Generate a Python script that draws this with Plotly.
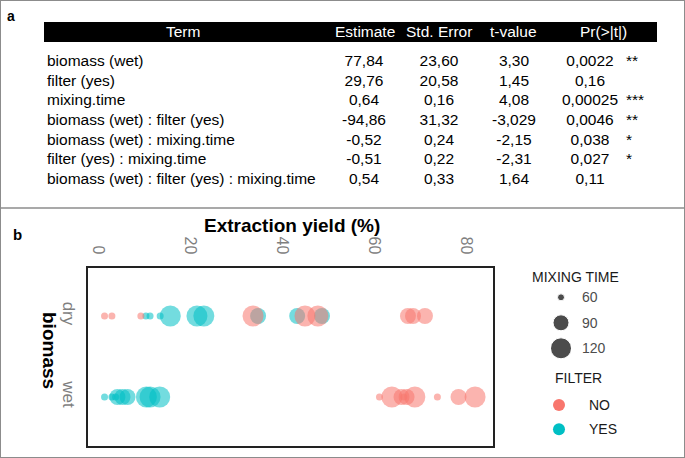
import plotly.graph_objects as go

W, H = 685, 458
FONT = "Liberation Sans, Arial, sans-serif"

# ---- panel a: regression table
header = ["Term", "Estimate", "Std. Error", "t-value", "Pr(>|t|)"]
terms = ["biomass (wet)", "filter (yes)", "mixing.time",
         "biomass (wet) : filter (yes)", "biomass (wet) : mixing.time",
         "filter (yes) : mixing.time",
         "biomass (wet) : filter (yes) : mixing.time"]
estimate = ["77,84", "29,76", "0,64", "-94,86", "-0,52", "-0,51", "0,54"]
std_error = ["23,60", "20,58", "0,16", "31,32", "0,24", "0,22", "0,33"]
t_value = ["3,30", "1,45", "4,08", "-3,029", "-2,15", "-2,31", "1,64"]
p_value = ["0,0022", "0,16", "0,00025", "0,0046", "0,038", "0,027", "0,11"]
signif = ["**", "", "***", "**", "*", "*", ""]

# ---- panel b: extraction yield (%) and mixing time of each run
dry_no_yield = [1.4, 3.0, 9.3, 67.4, 68.5, 71.1, 33.7, 45.0, 47.8]
dry_no_time = [60, 60, 60, 90, 90, 90, 120, 120, 120]
dry_yes_yield = [10.4, 11.3, 13.5, 34.8, 43.3, 48.7, 15.7, 21.5, 23.0]
dry_yes_time = [60, 60, 60, 90, 90, 90, 120, 120, 120]
wet_no_yield = [61.2, 66.5, 73.8, 66.0, 67.1, 78.4, 63.9, 68.9, 82.0]
wet_no_time = [60, 60, 60, 90, 90, 90, 120, 120, 120]
wet_yes_yield = [1.4, 3.0, 3.8, 4.2, 5.3, 6.4, 10.5, 11.3, 13.4]
wet_yes_time = [60, 60, 60, 90, 90, 90, 120, 120, 120]

biomass_levels = ["dry", "wet"]
time_levels = [60, 90, 120]
filter_levels = ["NO", "YES"]

COL = {"NO": "#F8766D", "YES": "#00BFC4"}
SIZE = {60: 7, 90: 16, 120: 21}

# table column anchors (px) and alignment
TCOLS = [(terms, 47, "middle right"), (estimate, 364, "middle center"),
         (std_error, 439, "middle center"), (t_value, 514, "middle center"),
         (p_value, 590, "middle center"), (signif, 626, "middle right")]
HEAD_X = [183, 365, 439, 513, 603]

fig = go.Figure()

for vals, cx, pos in TCOLS:
    fig.add_trace(go.Scatter(
        x=[cx] * len(terms), y=terms, text=vals, mode="text", textposition=pos,
        textfont=dict(size=15.5, family=FONT, color="black"),
        showlegend=False, hoverinfo="skip", xaxis="x4", yaxis="y4",
    ))

groups = [
    ("dry", "YES", dry_yes_yield, dry_yes_time),
    ("wet", "YES", wet_yes_yield, wet_yes_time),
    ("dry", "NO", dry_no_yield, dry_no_time),
    ("wet", "NO", wet_no_yield, wet_no_time),
]
for bio, filt, ys, ts in groups:
    fig.add_trace(go.Scatter(
        x=ys, y=[bio] * len(ys), mode="markers", showlegend=False,
        marker=dict(size=[SIZE[t] for t in ts], color=COL[filt], opacity=0.55,
                    line=dict(width=0)),
        xaxis="x", yaxis="y",
    ))

# legend keys drawn on small hidden axes
fig.add_trace(go.Scatter(
    x=[0] * len(time_levels), y=[str(t) for t in time_levels], mode="markers",
    marker=dict(size=[SIZE[t] for t in time_levels], color="black"),
    showlegend=False, xaxis="x2", yaxis="y2",
))
fig.add_trace(go.Scatter(
    x=[0] * len(filter_levels), y=filter_levels, mode="markers",
    marker=dict(size=12, color=[COL[f] for f in filter_levels]),
    showlegend=False, xaxis="x3", yaxis="y3",
))

hidden = dict(showgrid=False, zeroline=False, showline=False, ticks="",
              fixedrange=True)

fig.update_layout(
    width=W, height=H, margin=dict(l=0, r=0, t=0, b=0),
    paper_bgcolor="white", plot_bgcolor="white",
    font=dict(family=FONT, color="black"),
    xaxis=dict(domain=[88 / W, 493 / W], range=[-2.2, 85.9], side="top",
               tickvals=[0, 20, 40, 60, 80], tickangle=90, ticks="",
               ticklabelstandoff=6,
               tickfont=dict(size=16, color="#7f7f7f"), showgrid=False,
               zeroline=False, showline=True, mirror=True, linewidth=2,
               linecolor="#222", anchor="y"),
    yaxis=dict(domain=[1 - 446 / H, 1 - 268 / H], type="category",
               categoryorder="array", categoryarray=biomass_levels,
               range=[1.605, -0.593], tickangle=90, ticks="",
               ticklabelstandoff=3,
               tickfont=dict(size=17, color="#7f7f7f"), showgrid=False,
               zeroline=False, showline=True, mirror=True, linewidth=2,
               linecolor="#222", anchor="x"),
    xaxis2=dict(domain=[551 / W, 571 / W], range=[-1, 1], showticklabels=False,
                anchor="y2", **hidden),
    yaxis2=dict(domain=[1 - 361.05 / H, 1 - 284.55 / H], type="category",
                categoryorder="array", categoryarray=[str(t) for t in time_levels],
                range=[2.5, -0.5], side="right", anchor="x2",
                ticklabelstandoff=10,
                tickfont=dict(size=14, color="#4d4d4d"), **hidden),
    xaxis3=dict(domain=[549 / W, 569 / W], range=[-1, 1], showticklabels=False,
                anchor="y3", **hidden),
    yaxis3=dict(domain=[1 - 441.45 / H, 1 - 392.85 / H], type="category",
                categoryorder="array", categoryarray=filter_levels,
                range=[1.5, -0.5], side="right", anchor="x3",
                ticklabelstandoff=19,
                tickfont=dict(size=14, color="#1a1a1a"), **hidden),
    xaxis4=dict(domain=[0, 1], range=[0, W], visible=False, anchor="y4",
                fixedrange=True),
    yaxis4=dict(domain=[1 - 189.8 / H, 1 - 52.2 / H], type="category",
                categoryorder="array", categoryarray=terms,
                range=[6.5, -0.5], visible=False, anchor="x4", fixedrange=True),
)

annos = [
    dict(text="<b>a</b>", x=11 / W, y=1 - 16 / H, font=dict(size=14)),
    dict(text="<b>b</b>", x=17 / W, y=1 - 234 / H, font=dict(size=15)),
    dict(text="<b>Extraction yield (%)</b>", x=292 / W, y=1 - 226 / H,
         font=dict(size=19)),
    dict(text="<b>biomass</b>", x=50 / W, y=1 - 351 / H, textangle=90,
         font=dict(size=19)),
    dict(text="MIXING TIME", x=530 / W, y=1 - 277 / H, xanchor="left",
         font=dict(size=14, color="#1a1a1a")),
    dict(text="FILTER", x=553 / W, y=1 - 378 / H, xanchor="left",
         font=dict(size=14, color="#1a1a1a")),
]
for hx, ht in zip(HEAD_X, header):
    annos.append(dict(text=ht, x=hx / W, y=1 - 32 / H,
                      font=dict(size=15.5, color="white")))
for a in annos:
    a.setdefault("xanchor", "center")
    fig.add_annotation(xref="paper", yref="paper", yanchor="middle",
                       showarrow=False, **a)

# header bar of the table
fig.add_shape(type="rect", xref="paper", yref="paper", x0=44 / W, x1=657 / W,
              y0=1 - 42 / H, y1=1 - 22 / H, fillcolor="black", line_width=0,
              layer="below")
# panel frames
fig.add_shape(type="rect", xref="paper", yref="paper", x0=0, y0=0, x1=1, y1=1,
              line=dict(color="#8c8c8c", width=2), layer="above")
fig.add_shape(type="line", xref="paper", yref="paper", x0=0, x1=1,
              y0=1 - 208 / H, y1=1 - 208 / H, line=dict(color="#8c8c8c", width=1.5))

fig.write_html("out.html", config={"displayModeBar": False},
               post_script="document.body.style.margin = '0px';")
